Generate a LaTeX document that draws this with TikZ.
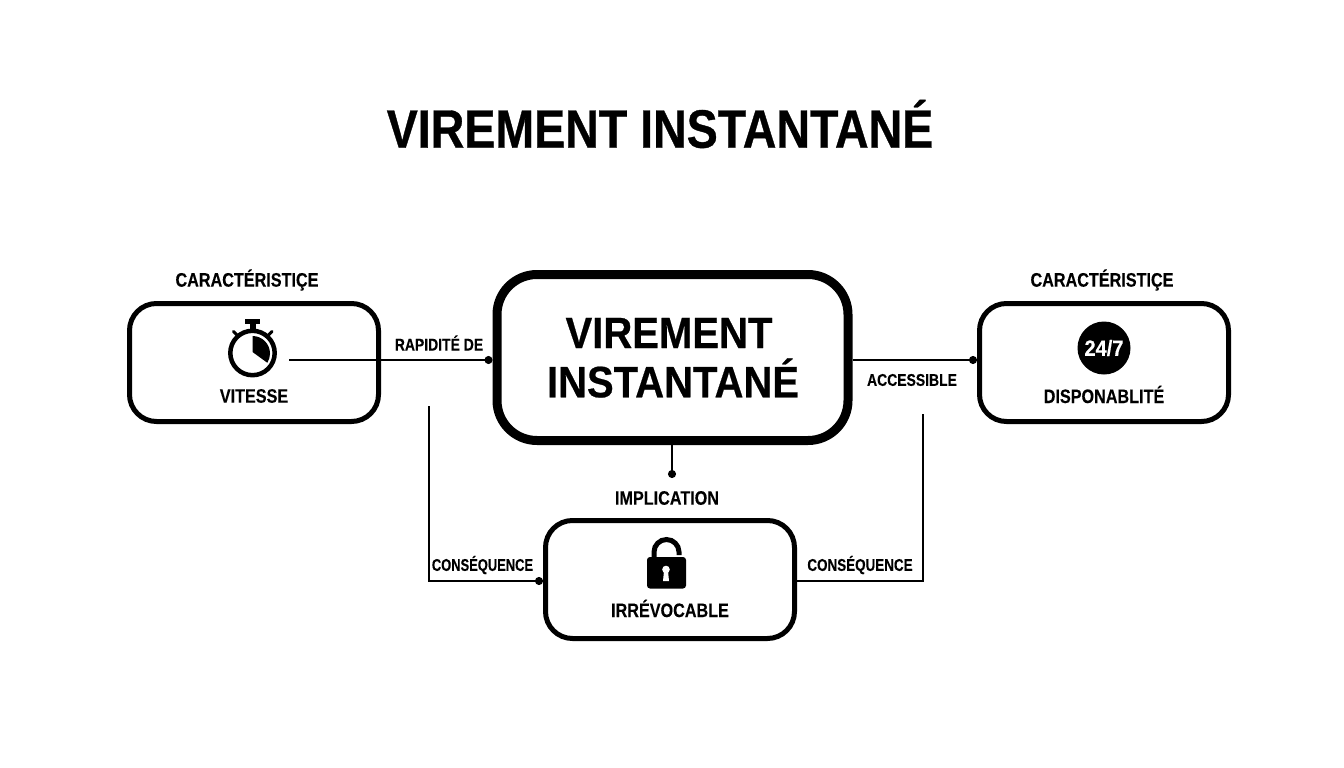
\documentclass[tikz,border=0pt]{standalone}
\usepackage{fontspec}
\setmainfont{Liberation Sans}
\newfontfamily\ftitle{Liberation Sans Bold}[FakeStretch=0.862,FakeBold=0.6]
\newfontfamily\fhub{Liberation Sans Bold}[FakeStretch=0.91,FakeBold=0.5]
\newfontfamily\flab{Liberation Sans Bold}[FakeStretch=0.83,FakeBold=0.2]
\newfontfamily\fsma{Liberation Sans Bold}[FakeStretch=0.82,FakeBold=0.2]
\newfontfamily\fcon{Liberation Sans Bold}[FakeStretch=0.79,FakeBold=0.2]
\newfontfamily\fconl{Liberation Sans Bold}[FakeStretch=0.76,FakeBold=0.2]
\usetikzlibrary{arrows.meta}
\tikzset{
 x=1pt,y=-1pt,
 box/.style={draw=black,line width=5pt,rounded corners=27pt,minimum width=249pt,minimum height=118pt,inner sep=0pt,fill=white},
 hub/.style={draw=black,line width=9pt,rounded corners=40pt,minimum width=351pt,minimum height=166pt,inner sep=0pt,fill=white},
 conn/.style={draw=black,line width=1.7pt,-{Circle[length=8pt,width=8pt]}},
 plain/.style={draw=black,line width=1.7pt},
 titletxt/.style={inner sep=0pt,text=black,font=\ftitle\fontsize{54}{54}\selectfont,anchor=center},
 hubtxt/.style={inner sep=0pt,text=black,font=\fhub\fontsize{44}{44}\selectfont,anchor=center},
 labtxt/.style={inner sep=0pt,text=black,font=\flab\fontsize{19.5}{19.5}\selectfont,anchor=center},
 smatxt/.style={inner sep=0pt,text=black,font=\fsma\fontsize{17}{17}\selectfont,anchor=center},
 contxt/.style={inner sep=0pt,text=black,font=\fcon\fontsize{17}{17}\selectfont,anchor=center},
 conltxt/.style={inner sep=0pt,text=black,font=\fconl\fontsize{17}{17}\selectfont,anchor=center},
}
\begin{document}
\begin{tikzpicture}
\useasboundingbox (0,0) rectangle (1344,768);
\fill[white] (0,0) rectangle (1344,768);
% free ends
\coordinate (sw) at (289,360);
\coordinate (lt) at (429,406);
\coordinate (lc) at (429,581);
\coordinate (rt) at (923,414);
\coordinate (rc) at (923,581);
\coordinate (imp) at (672,478);
% boxes
\node[box] (vit) at (254,362.5) {};
\node[box] (dis) at (1104,362.5) {};
\node[box] (irr) at (670,579.5) {};
\node[hub] (hubn) at (672.5,357.5) {};
% connectors
\draw[conn] (sw) -- (sw -| hubn.west);
\draw[conn] (sw -| hubn.east) -- (sw -| dis.west);
\draw[conn] (hubn.south -| imp) -- (imp);
\draw[conn] (lt) -- (lc) -- (lc -| irr.west);
\draw[plain] (rt) -- (rc) -- (rc -| irr.east);
% title
\node[titletxt] (title) at (660,124) {VIREMENT INSTANTANÉ};
% labels
\node[labtxt] (c1) at (247,280) {CARACTÉRISTIÇE};
\node[labtxt] (c2) at (1102,280) {CARACTÉRISTIÇE};
\node[labtxt] (vl) at (254,396) {VITESSE};
\node[labtxt] (dl) at (1104,394.5) {DISPONABLITÉ};
\node[labtxt] (il) at (670,608.5) {IRRÉVOCABLE};
\node[labtxt] (im) at (667,498) {IMPLICATION};
\node[smatxt] (r) at (439,343) {RAPIDITÉ DE};
\node[smatxt] (a) at (912,380) {ACCESSIBLE};
\node[conltxt] (q1) at (482.5,565) {CONSÉQUENCE};
\node[contxt] (q2) at (860,565) {CONSÉQUENCE};
\node[hubtxt] (h1) at (669,333) {VIREMENT};
\node[hubtxt] (h2) at (673,378) {INSTANTANÉ};
% stopwatch
\draw[black,line width=4.5pt] (252.5,353) circle (22.2pt);
\fill[black] (249.5,329) rectangle (255.5,322);
\fill[black] (245,318.5) rectangle (260,323.5);
\draw[black,line width=3pt,line cap=round] (233.5,331.5) -- (238,336);
\draw[black,line width=3pt,line cap=round] (272,331.5) -- (267.5,336);
\fill[black] (252.5,336) arc (-90:32:17.5) -- (252.5,352) -- cycle;
% 24/7
\node[circle,fill=black,minimum size=53pt,inner sep=0pt,text=white,font=\fhub\fontsize{22}{22}\selectfont] (clock) at (1104,348) {24/7};
% lock
\draw[black,line width=5pt] (654,560) -- (654,552) arc (180:360:12.5) -- (679,555);
\fill[black,rounded corners=3pt] (647,557) rectangle (686,588.5);
\fill[white] (666,569.5) circle (3.8pt);
\fill[white] (664,571) -- (668,571) -- (669,581) -- (663,581) -- cycle;
\end{tikzpicture}
\end{document}
